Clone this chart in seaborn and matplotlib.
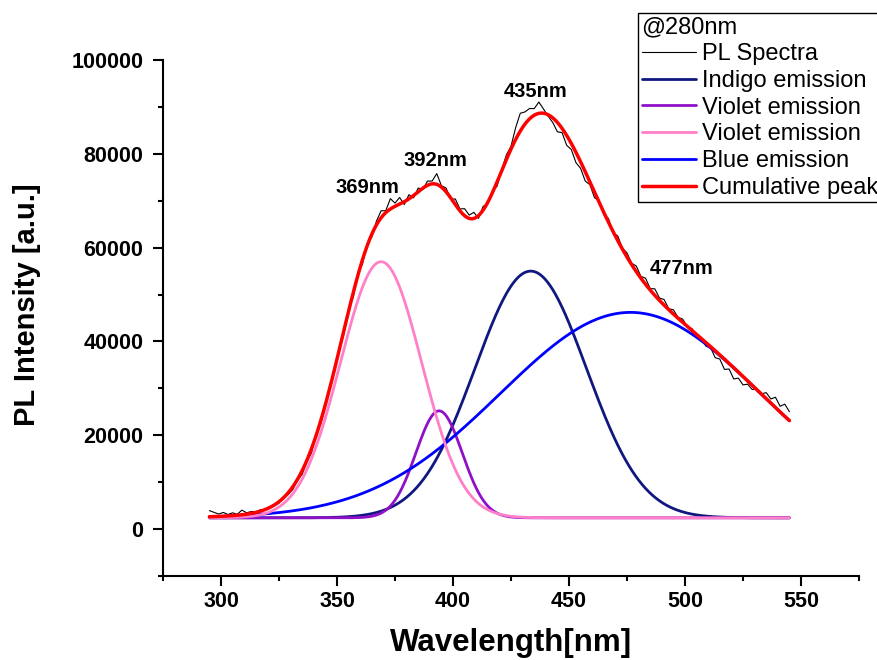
import numpy as np
import pandas as pd
import matplotlib
matplotlib.use("Agg")
import matplotlib.pyplot as plt
from matplotlib.lines import Line2D
from matplotlib.ticker import MultipleLocator
import seaborn as sns

# measured PL spectrum (excitation 280 nm), read every 2 nm
wavelength = list(range(295, 546, 2))
pl_intensity = [
    3940, 3570, 3210, 3550, 3110, 3470, 3150, 4050, 3480, 3740,
    3650, 4120, 4060, 4800, 4950, 5540, 6910, 7370, 8470, 10430,
    11680, 14340, 16230, 20260, 22410, 26160, 30780, 33600, 38570, 41590,
    46870, 49410, 54400, 56550, 60890, 62260, 65650, 67860, 67860, 70440,
    69500, 70690, 69190, 71290, 70610, 72710, 72380, 74190, 74190, 75780,
    73210, 72710, 70310, 70380, 68250, 68300, 66930, 67530, 66240, 68820,
    69280, 72020, 73100, 76590, 79760, 81610, 85560, 88650, 88930, 89660,
    89630, 91030, 89560, 88030, 86670, 84690, 84530, 81820, 80910, 78120,
    76900, 74190, 73420, 70640, 69960, 67010, 66230, 63120, 62510, 59890,
    58880, 56680, 56080, 53880, 53480, 51260, 51220, 49250, 48940, 46970,
    46750, 45150, 44770, 43110, 42750, 41200, 40850, 38980, 38720, 36540,
    36250, 34040, 34130, 32010, 32180, 30740, 30890, 29740, 29990, 28840,
    29090, 27740, 28100, 26170, 26640, 25030,
]

# gaussian fit: baseline + peaks
baseline = 2400
peak_names = ["Indigo emission", "Violet emission", "Violet emission ", "Blue emission"]
peak_centers = [433.5, 394.0, 369.0, 476.5]
peak_heights = [52600, 22800, 54600, 43800]
peak_sigmas = [24.0, 10.0, 17.5, 56.0]
peak_colors = ["#101880", "#9010c8", "#ff80c8", "#0000ff"]

peak_labels = ["369nm", "392nm", "435nm", "477nm"]
label_x = [363.0, 392.5, 435.7, 498.4]
label_y = [72900, 78600, 93200, 55600]

sns.set_theme(style="ticks")
plt.rcParams["font.family"] = ["Liberation Sans", "DejaVu Sans"]
plt.rcParams.update({"text.color": "black", "axes.labelcolor": "black",
                     "xtick.color": "black", "ytick.color": "black"})

fit_x = np.linspace(295, 545, 501)
fit = pd.DataFrame({"wavelength": fit_x})
for name, c, h, s in zip(peak_names, peak_centers, peak_heights, peak_sigmas):
    fit[name] = baseline + h * np.exp(-(fit_x - c) ** 2 / (2 * s ** 2))
fit["Cumulative peak"] = fit[peak_names].sum(axis=1) - baseline * (len(peak_names) - 1)

spec = pd.DataFrame({"wavelength": wavelength, "PL Spectra": pl_intensity})

fig = plt.figure(figsize=(8.78, 6.6), dpi=100)
ax = fig.add_axes([163 / 878, 1 - 576 / 660, 696 / 878, 516 / 660])

sns.lineplot(data=spec, x="wavelength", y="PL Spectra", color="black", lw=0.8, ax=ax)
draw_order = [0, 1, 3, 2]
for i in draw_order:
    sns.lineplot(data=fit, x="wavelength", y=peak_names[i], color=peak_colors[i], lw=2.0, ax=ax)
sns.lineplot(data=fit, x="wavelength", y="Cumulative peak", color="#ff0000", lw=2.5, ax=ax)

for t, lx, ly in zip(peak_labels, label_x, label_y):
    ax.text(lx, ly, t, ha="center", va="center", fontsize=14.5, fontweight="bold", color="black")

ax.set_xlim(275, 575)
ax.set_ylim(-10000, 100000)
ax.xaxis.set_major_locator(MultipleLocator(50))
ax.xaxis.set_minor_locator(MultipleLocator(25))
ax.yaxis.set_major_locator(MultipleLocator(20000))
ax.yaxis.set_minor_locator(MultipleLocator(10000))
sns.despine(ax=ax)
for sp in ["left", "bottom"]:
    ax.spines[sp].set_linewidth(1.5)
    ax.spines[sp].set_color("black")
ax.tick_params(which="major", direction="out", length=7, width=1.5, colors="black", labelsize=15.5)
ax.tick_params(which="minor", direction="out", length=3.5, width=1.5, colors="black")
ax.tick_params(axis="x", pad=4)
ax.tick_params(axis="y", pad=7)
for lab in ax.get_xticklabels() + ax.get_yticklabels():
    lab.set_fontweight("bold")

ax.set_xlabel("Wavelength[nm]", fontsize=22.5, fontweight="bold", color="black")
ax.set_ylabel("PL Intensity [a.u.]", fontsize=21, fontweight="bold", color="black")
ax.xaxis.set_label_coords(0.5, -0.101)
ax.yaxis.set_label_coords(-0.175, 0.525)

handles = [Line2D([], [], color="black", lw=0.8)]
handles += [Line2D([], [], color=col, lw=2.0) for col in peak_colors]
handles += [Line2D([], [], color="#ff0000", lw=2.5)]
names = ["PL Spectra"] + [n.strip() for n in peak_names] + ["Cumulative peak"]
leg = ax.legend(handles, names, title="@280nm", loc="upper left",
                bbox_to_anchor=(638 / 878, 1 - 13 / 660), bbox_transform=fig.transFigure,
                fontsize=17, title_fontsize=17, alignment="left", frameon=True,
                fancybox=False, shadow=False, borderpad=0.15, labelspacing=0.2,
                handlelength=2.3, handletextpad=0.25, borderaxespad=0)
leg.get_frame().set_edgecolor("black")
leg.get_frame().set_linewidth(1.0)
leg.get_frame().set_alpha(1)
for txt in leg.get_texts() + [leg.get_title()]:
    txt.set_color("black")

fig.savefig("out.png", dpi=100)
